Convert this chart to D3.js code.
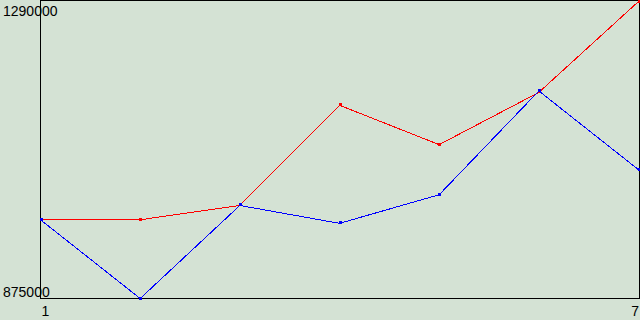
<!DOCTYPE html>
<html>
<head>
<meta charset="utf-8">
<script src="https://cdn.jsdelivr.net/npm/d3@7.9.0/dist/d3.min.js"></script>
<style>
  html, body { margin: 0; padding: 0; background: #d4e2d4; }
  svg { display: block; }
  text { font-family: "Liberation Sans", Arial, sans-serif; font-size: 14px; fill: #000; }
</style>
</head>
<body>
<svg width="640" height="320"></svg>
<script>
const xValues = [1, 2, 3, 4, 5, 6, 7];
const redSeries = [985000, 985000, 1005000, 1145000, 1090000, 1163000, 1290000];
const blueSeries = [985000, 875000, 1005000, 980000, 1020000, 1165000, 1055000];
const yMin = 875000, yMax = 1290000;

const svg = d3.select('svg');
const x = d3.scaleLinear().domain([1, 7]).range([40.5, 638.5]);
const y = d3.scaleLinear().domain([yMin, yMax]).range([298.5, 1.5]);

// labels first, the frame is drawn over them
svg.append('text').attr('x', 3).attr('y', 16).text(d3.format('d')(yMax));
svg.append('text').attr('x', 3).attr('y', 297).text(d3.format('d')(yMin));
svg.append('text').attr('x', 45.5).attr('y', 316).attr('text-anchor', 'middle').text(xValues[0]);
svg.append('text').attr('x', 639).attr('y', 316).attr('text-anchor', 'end').text(xValues[6]);

svg.append('rect')
    .attr('x', 40.5).attr('y', 0.5)
    .attr('width', 598.5).attr('height', 298)
    .attr('fill', 'none').attr('stroke', '#000')
    .attr('shape-rendering', 'crispEdges');

function drawSeries(values, color) {
    let line = d3.line()
        .x((d, i) => x(xValues[i]))
        .y((d) => y(d));
    svg.append('path')
        .attr('d', line(values))
        .attr('fill', 'none')
        .attr('stroke', color)
        .attr('stroke-width', 1)
        .attr('shape-rendering', 'crispEdges');
    values.forEach((d, i) => {
        svg.append('rect')
            .attr('x', Math.round(x(xValues[i])) - 1)
            .attr('y', Math.round(y(d)) - 2)
            .attr('width', 3).attr('height', 3)
            .attr('fill', color)
            .attr('shape-rendering', 'crispEdges');
    });
}

drawSeries(redSeries, '#ff0000');
drawSeries(blueSeries, '#0000ff');
</script>
</body>
</html>
